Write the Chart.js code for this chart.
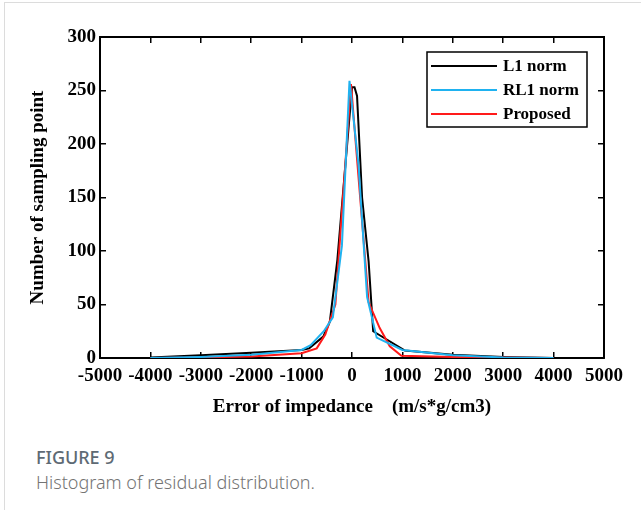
<!DOCTYPE html>
<html>
<head>
<meta charset="utf-8">
<script src="https://cdn.jsdelivr.net/npm/chart.js@4/dist/chart.umd.min.js"></script>
<style>
  html, body { margin: 0; padding: 0; background: #fff; }
  body { width: 641px; height: 510px; position: relative; overflow: hidden; }
  #frame { position: absolute; left: 4px; top: 2px; width: 660px; height: 540px; border: 1px solid #dcdcdc; }
  #wrap { position: absolute; left: 0; top: 0; width: 641px; height: 430px; }
  .cap { position: absolute; left: 36px; font-family: "Noto Sans", "Open Sans", sans-serif; font-size: 18px; white-space: nowrap; }
  #fig { top: 445px; color: #5e6a74; font-weight: 500; }
  #desc { top: 470px; color: #747474; font-weight: 300; }
</style>
</head>
<body>
<div id="frame"></div>
<div id="wrap"><canvas id="residualChart"></canvas></div>
<div class="cap" id="fig">FIGURE 9</div>
<div class="cap" id="desc">Histogram of residual distribution.</div>
<script>
// Residual (impedance error) bins and counts
const l1X = [-4000, -3000, -2000, -1000, -850, -570, -440, -290, 0, 50, 100, 200, 330, 420, 1050, 2000, 3000, 4000];
const l1Y = [0.5, 2.5, 5, 7.5, 9, 20, 34, 92, 253, 253, 245, 150, 90, 25, 7, 3, 1, 0];

const rl1X = [-4000, -3000, -2000, -1000, -820, -560, -380, -200, -50, 130, 300, 490, 1000, 2000, 3000, 4000];
const rl1Y = [0, 1, 3, 7.5, 12, 25, 38, 105, 259, 180, 57, 19, 7.5, 2.5, 0.5, 0];

const propX = [-4000, -3000, -2000, -1000, -700, -530, -330, -20, 330, 550, 750, 980, 2000, 3000, 4000];
const propY = [0, 0.5, 1.5, 4.5, 9, 22, 50, 256, 52, 28, 11, 2, 1, 0.5, 0];

const seriesNames = ["L1 norm", "RL1 norm", "Proposed"];
const seriesColors = ["#000000", "#1fb2f0", "#ff1a1a"];

const serif = "'Liberation Serif', 'Times New Roman', serif";

function toPoints(xs, ys) {
  return xs.map(function (x, i) { return { x: x, y: ys[i] }; });
}

// plain numbers, no thousands separator
function plainTick(v) { return String(v); }

// legend box drawn inside the plot, like the matlab one
const boxLegend = {
  id: "boxLegend",
  afterDatasetsDraw: function (chart) {
    const ctx = chart.ctx;
    const left = 427, top = 52, w = 160, h = 75;
    ctx.save();
    ctx.fillStyle = "#fff";
    ctx.fillRect(left, top, w, h);
    ctx.strokeStyle = "#000";
    ctx.lineWidth = 1.5;
    ctx.strokeRect(left, top, w, h);
    ctx.font = "bold 17px " + serif;
    ctx.textBaseline = "middle";
    chart.data.datasets.forEach(function (ds, i) {
      const y = top + 14 + i * 24;
      ctx.strokeStyle = ds.borderColor;
      ctx.lineWidth = 2;
      ctx.beginPath();
      ctx.moveTo(left + 4, y);
      ctx.lineTo(left + 70, y);
      ctx.stroke();
      ctx.fillStyle = "#000";
      ctx.fillText(ds.label, left + 76, y + 1);
    });
    ctx.restore();
  }
};

const ctx = document.getElementById("residualChart").getContext("2d");

new Chart(ctx, {
  type: "line",
  data: {
    datasets: [
      { label: seriesNames[0], data: toPoints(l1X, l1Y), borderColor: seriesColors[0], order: 2 },
      { label: seriesNames[1], data: toPoints(rl1X, rl1Y), borderColor: seriesColors[1], order: 0 },
      { label: seriesNames[2], data: toPoints(propX, propY), borderColor: seriesColors[2], order: 1 }
    ]
  },
  options: {
    responsive: true,
    maintainAspectRatio: false,
    animation: false,
    events: [],
    elements: {
      line: { borderWidth: 2, tension: 0 },
      point: { radius: 0 }
    },
    layout: { padding: { top: 37, right: 37, left: 0, bottom: 0 } },
    plugins: {
      legend: { display: false },
      tooltip: { enabled: false }
    },
    scales: {
      x: {
        type: "linear",
        position: "bottom",
        min: -5000,
        max: 5000,
        afterFit: function (s) { s.height = 72; },
        ticks: { stepSize: 1000, color: "#000", padding: 13, callback: plainTick, font: { family: serif, size: 19, weight: "bold" } },
        grid: { drawOnChartArea: false, drawTicks: true, tickLength: -6, color: "#000", lineWidth: 1.5 },
        border: { display: true, color: "#000", width: 2 },
        title: {
          display: true,
          text: "Error of impedance    (m/s*g/cm3)",
          color: "#000",
          font: { family: serif, size: 19, weight: "bold" },
          padding: { top: 0, bottom: 12 }
        }
      },
      y: {
        type: "linear",
        position: "left",
        min: 0,
        max: 300,
        afterFit: function (s) { s.width = 100; },
        ticks: { stepSize: 50, color: "#000", padding: 10, callback: plainTick, font: { family: serif, size: 19, weight: "bold" } },
        grid: { drawOnChartArea: false, drawTicks: true, tickLength: -6, color: "#000", lineWidth: 1.5 },
        border: { display: true, color: "#000", width: 2 },
        title: {
          display: true,
          text: "Number of sampling point",
          color: "#000",
          font: { family: serif, size: 19, weight: "bold" },
          padding: { top: 27, bottom: 0 }
        }
      },
      xTop: {
        type: "linear",
        position: "top",
        min: -5000,
        max: 5000,
        afterFit: function (s) { s.height = 0; },
        ticks: { stepSize: 1000, display: false },
        grid: { drawOnChartArea: false, drawTicks: true, tickLength: -6, color: "#000", lineWidth: 1.5 },
        border: { display: true, color: "#000", width: 2 }
      },
      yRight: {
        type: "linear",
        position: "right",
        min: 0,
        max: 300,
        afterFit: function (s) { s.width = 0; },
        ticks: { stepSize: 50, display: false },
        grid: { drawOnChartArea: false, drawTicks: true, tickLength: -6, color: "#000", lineWidth: 1.5 },
        border: { display: true, color: "#000", width: 2 }
      }
    }
  },
  plugins: [boxLegend]
});
</script>
</body>
</html>
